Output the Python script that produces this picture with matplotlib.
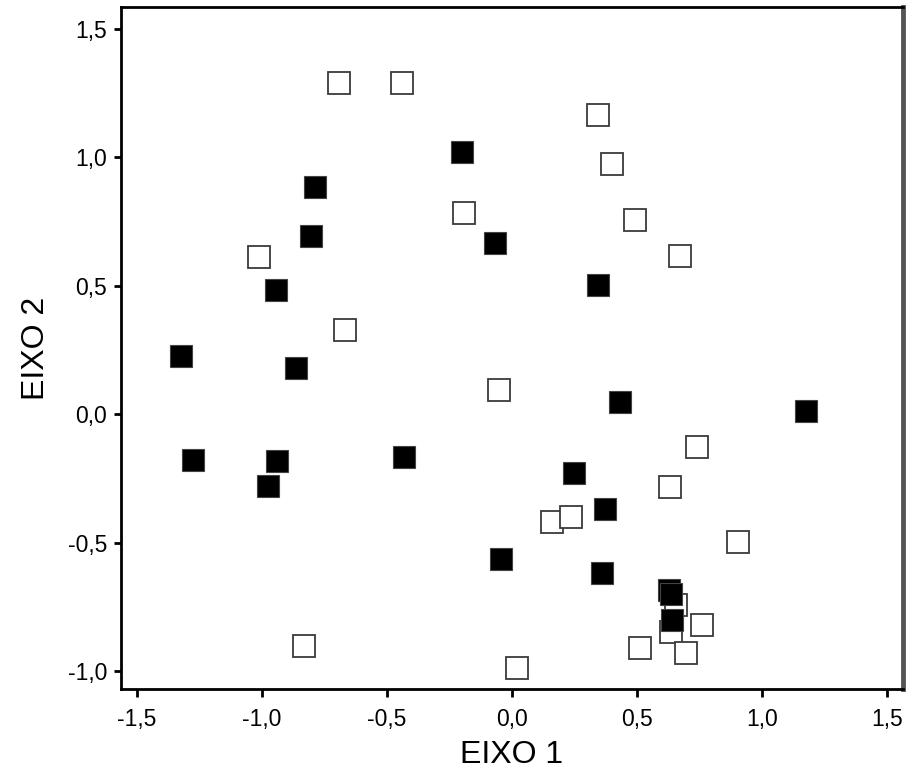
import matplotlib
matplotlib.use("Agg")
import matplotlib.pyplot as plt
from matplotlib.ticker import FixedLocator, FuncFormatter

plt.rcParams['font.family'] = ['Liberation Sans', 'DejaVu Sans']

# Open squares (group 1)
open_x = [-0.692, -0.44, 0.344, 0.40, -0.192, 0.492, 0.672, -1.012, -0.668, -0.052,
          0.74, 0.632, 0.16, 0.236, 0.904, 0.656, 0.636, 0.76, 0.512, 0.696, 0.02, -0.832]
open_y = [1.288, 1.288, 1.163, 0.973, 0.782, 0.755, 0.615, 0.611, 0.327, 0.093,
          -0.128, -0.284, -0.42, -0.40, -0.498, -0.743, -0.848, -0.821, -0.911, -0.93, -0.988, -0.903]

# Filled squares (group 2)
fill_x = [-0.788, -0.804, -0.944, -1.324, -0.864, -1.276, -0.94, -0.976, -0.432, -0.2,
          -0.068, 0.344, 0.432, 0.248, 0.372, 0.36, -0.044, 1.176, 0.628, 0.636, 0.638]
fill_y = [0.883, 0.693, 0.482, 0.226, 0.179, -0.179, -0.183, -0.28, -0.167, 1.019,
          0.665, 0.502, 0.047, -0.23, -0.37, -0.619, -0.564, 0.012, -0.686, -0.70, -0.80]

xticks = [-1.5, -1.0, -0.5, 0.0, 0.5, 1.0, 1.5]
yticks = [-1.0, -0.5, 0.0, 0.5, 1.0, 1.5]
xlabel = "EIXO 1"
ylabel = "EIXO 2"

fig = plt.figure(figsize=(9.11, 7.76), dpi=100)
ax = fig.add_axes([121/911, 1 - 689/776, (903 - 121)/911, (689 - 7)/776])

ax.plot(open_x, open_y, linestyle='none', marker='s', markersize=15.5,
        markerfacecolor='white', markeredgecolor='#3a3a3a', markeredgewidth=1.3, zorder=3)
ax.plot(fill_x, fill_y, linestyle='none', marker='s', markersize=15.5,
        markerfacecolor='black', markeredgecolor='#444444', markeredgewidth=0.8, zorder=4)

ax.set_xlim(-1.564, 1.564)
ax.set_ylim(-1.07, 1.584)

fmt = FuncFormatter(lambda v, p: f"{v:.1f}".replace('.', ',').replace('-0,0', '0,0'))
ax.xaxis.set_major_locator(FixedLocator(xticks))
ax.yaxis.set_major_locator(FixedLocator(yticks))
ax.xaxis.set_major_formatter(fmt)
ax.yaxis.set_major_formatter(fmt)

ax.tick_params(axis='x', direction='out', length=6, width=2, labelsize=16.5, pad=8, color='black')
ax.tick_params(axis='y', direction='out', length=5, width=2, labelsize=16.5, pad=5, color='black')

for s in ['left', 'bottom', 'top']:
    ax.spines[s].set_linewidth(2)
    ax.spines[s].set_color('black')
ax.spines['right'].set_linewidth(3.5)
ax.spines['right'].set_color('#555555')

ax.set_xlabel(xlabel, fontsize=23, labelpad=6)
ax.set_ylabel(ylabel, fontsize=23, labelpad=12)

fig.savefig("out.png", dpi=100, facecolor='white')
